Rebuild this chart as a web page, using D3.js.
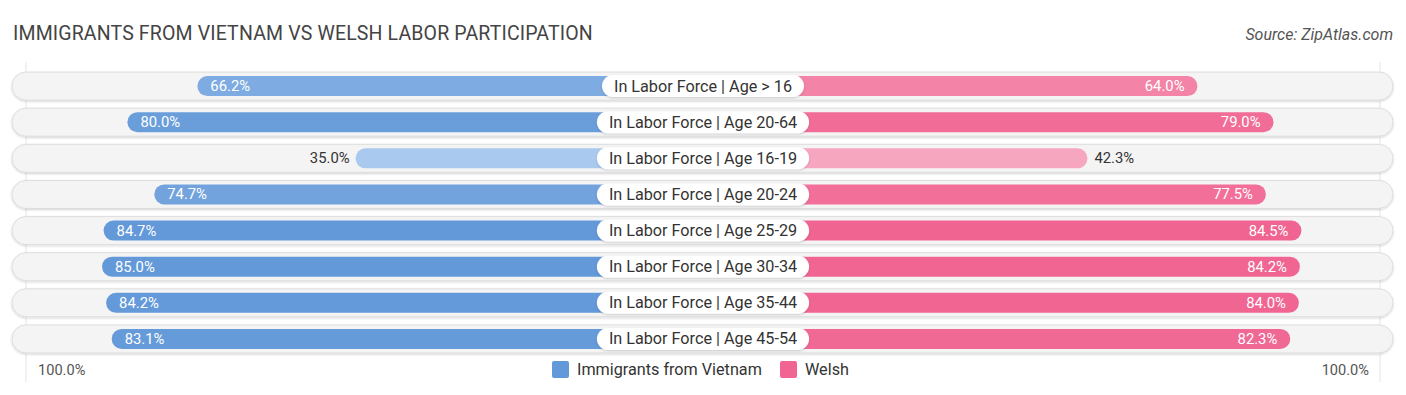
<!DOCTYPE html>
<html>
<head>
<meta charset="utf-8">
<script src="https://cdn.jsdelivr.net/npm/d3@7"></script>
<style>
  body { margin: 0; background: #fff; }
  text { font-family: Roboto, "Open Sans", sans-serif; }
</style>
</head>
<body>
<script>
'use strict';

// chart data
const categories = [
  "In Labor Force | Age > 16",
  "In Labor Force | Age 20-64",
  "In Labor Force | Age 16-19",
  "In Labor Force | Age 20-24",
  "In Labor Force | Age 25-29",
  "In Labor Force | Age 30-34",
  "In Labor Force | Age 35-44",
  "In Labor Force | Age 45-54"
];
const vietnam = [66.2, 80.0, 35.0, 74.7, 84.7, 85.0, 84.2, 83.1];
const welsh = [64.0, 79.0, 42.3, 77.5, 84.5, 84.2, 84.0, 82.3];
const seriesNames = ["Immigrants from Vietnam", "Welsh"];
const axisLabels = ["100.0%", "100.0%"];

const width = 1406, height = 395;
const cx = 703, gap = 170;

const svg = d3.select("body").append("svg")
  .attr("width", width)
  .attr("height", height);

// scales
const x = d3.scaleLinear().domain([0, 100]).range([0, 507]);
const y = d3.scaleBand().domain(categories).range([68, 357]).paddingInner(0.22).paddingOuter(0.11);
const blue = d3.scaleLinear().domain([35, 85]).range(["#aac9ee", "#6399d9"]);
const pink = d3.scaleLinear().domain([42, 84]).range(["#f7a6c0", "#f06592"]);

const defs = svg.append("defs");
const sh = defs.append("filter").attr("id", "sh").attr("x", "-5%").attr("y", "-30%").attr("width", "110%").attr("height", "160%");
sh.append("feDropShadow").attr("dx", 0).attr("dy", 1).attr("stdDeviation", 1).attr("flood-color", "#000").attr("flood-opacity", 0.18);

// title
svg.append("text")
  .attr("x", 13).attr("y", 40)
  .attr("font-size", 19.5).attr("fill", "#444")
  .attr("letter-spacing", 0.15)
  .text("IMMIGRANTS FROM VIETNAM VS WELSH LABOR PARTICIPATION");

svg.append("text")
  .attr("x", 1393).attr("y", 40)
  .attr("text-anchor", "end")
  .attr("font-size", 16).attr("font-style", "italic").attr("fill", "#555")
  .text("Source: ZipAtlas.com");

// faint edge lines
[cx - gap - x(100), cx + gap + x(100)].forEach(px => {
  svg.append("line")
    .attr("x1", px).attr("x2", px)
    .attr("y1", 62).attr("y2", 382)
    .attr("stroke", "#e4e4e4").attr("stroke-width", 1);
});

const rows = svg.selectAll("g.row")
  .data(categories)
  .join("g")
  .attr("class", "row")
  .attr("transform", d => `translate(0,${y(d) + y.bandwidth() / 2})`);

const bgH = 28;
rows.append("rect")
  .attr("x", 12).attr("y", -bgH / 2)
  .attr("width", 1381).attr("height", bgH)
  .attr("rx", bgH / 2)
  .attr("fill", "#f4f4f4")
  .attr("stroke", "#dedede").attr("stroke-width", 1)
  .attr("filter", "url(#sh)");

const barH = 20;
// left bars
rows.append("rect")
  .attr("x", (d, i) => cx - gap - x(vietnam[i]))
  .attr("y", -barH / 2)
  .attr("width", (d, i) => gap + x(vietnam[i]))
  .attr("height", barH)
  .attr("rx", barH / 2)
  .attr("fill", (d, i) => blue(vietnam[i]));

// right bars
rows.append("rect")
  .attr("x", cx)
  .attr("y", -barH / 2)
  .attr("width", (d, i) => gap + x(welsh[i]))
  .attr("height", barH)
  .attr("rx", barH / 2)
  .attr("fill", (d, i) => pink(welsh[i]));

// center labels
rows.each(function (d) {
  const g = d3.select(this);
  const t = g.append("text")
    .attr("x", cx).attr("y", 5.5)
    .attr("text-anchor", "middle")
    .attr("font-size", 16.2).attr("fill", "#333")
    .text(d);
  const w = t.node().getComputedTextLength() + 24;
  g.insert("rect", "text")
    .attr("x", cx - w / 2).attr("y", -11)
    .attr("width", w).attr("height", 22)
    .attr("rx", 11)
    .attr("fill", "#fff")
    .attr("filter", "url(#sh)");
});

// value labels
const inside = v => v > 50;
rows.append("text")
  .attr("x", (d, i) => {
    const e = cx - gap - x(vietnam[i]);
    return inside(vietnam[i]) ? e + 13 : e - 6;
  })
  .attr("y", 5)
  .attr("text-anchor", (d, i) => inside(vietnam[i]) ? "start" : "end")
  .attr("font-size", 14.8)
  .attr("fill", (d, i) => inside(vietnam[i]) ? "#fff" : "#333")
  .text((d, i) => vietnam[i].toFixed(1) + "%");

rows.append("text")
  .attr("x", (d, i) => {
    const e = cx + gap + x(welsh[i]);
    return inside(welsh[i]) ? e - 13 : e + 7;
  })
  .attr("y", 5)
  .attr("text-anchor", (d, i) => inside(welsh[i]) ? "end" : "start")
  .attr("font-size", 14.8)
  .attr("fill", (d, i) => inside(welsh[i]) ? "#fff" : "#333")
  .text((d, i) => welsh[i].toFixed(1) + "%");

// axis end labels
svg.append("text")
  .attr("x", 38).attr("y", 375)
  .attr("font-size", 14.6).attr("fill", "#555")
  .text(axisLabels[0]);
svg.append("text")
  .attr("x", 1369).attr("y", 375)
  .attr("text-anchor", "end")
  .attr("font-size", 14.6).attr("fill", "#555")
  .text(axisLabels[1]);

// legend
const legend = [
  { name: seriesNames[0], color: "#6399d9", x: 552 },
  { name: seriesNames[1], color: "#f06592", x: 780 }
];
const lg = svg.selectAll("g.legend")
  .data(legend)
  .join("g")
  .attr("class", "legend")
  .attr("transform", d => `translate(${d.x},361)`);
lg.append("rect")
  .attr("width", 17).attr("height", 17)
  .attr("rx", 2)
  .attr("fill", d => d.color);
lg.append("text")
  .attr("x", 25).attr("y", 14)
  .attr("font-size", 16.2).attr("fill", "#333")
  .text(d => d.name);
</script>
</body>
</html>
